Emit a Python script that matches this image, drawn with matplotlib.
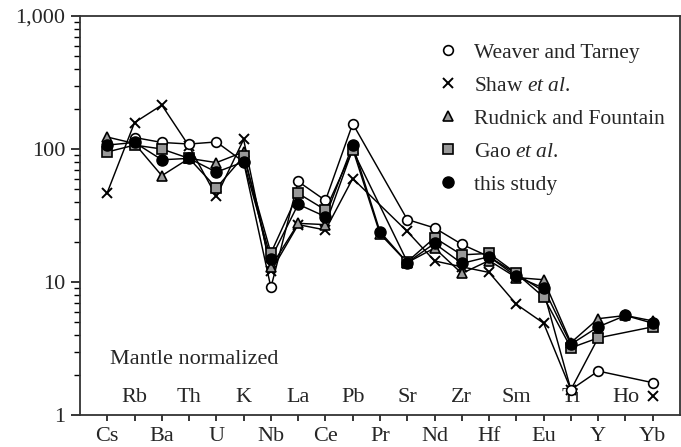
#Imports
import numpy as np
import matplotlib
matplotlib.use('Agg')
import matplotlib.pyplot as plt
from matplotlib.ticker import FuncFormatter, LogLocator, NullFormatter
from matplotlib.lines import Line2D

#Data (primitive mantle normalized), nan = not shown
nan = np.nan
Elements = ['Cs', 'Rb', 'Ba', 'Th', 'U', 'K', 'Nb', 'La', 'Ce', 'Pb', 'Pr',
            'Sr', 'Nd', 'Zr', 'Hf', 'Sm', 'Eu', 'Ti', 'Y', 'Ho', 'Yb']
Weaver = [nan, 122, 112, 109, 113, 80, 9.1, 57, 41, 155, nan,
          29.5, 25.5, 19.2, 15.5, 11.5, 8.5, 1.55, 2.14, nan, 1.75]
Shaw = [47, 158, 214, 105, 44, 118, 12, 27, 24.6, 60, nan,
        24, 14.4, 13, 11.8, 6.8, 4.9, 1.55, 3.8, nan, 1.4]
Rudnick = [123, 110, 63, 85, 79, 95, 13, 27.6, 27, 100, 23,
           14, 18, 11.6, 14.5, 10.8, 10.4, 3.5, 5.3, 5.6, 5.1]
Gao = [95, 107, 100, 85, 51, 88, 16.5, 46.4, 34.8, 98, nan,
       14.2, 21.5, 16, 16.4, 11.6, 7.7, 3.2, 3.8, nan, 4.6]
This_Study = [107, 112, 83, 85, 67, 80, 15, 38.4, 31, 107, 23.9,
              14, 19.5, 13.8, 15.5, 11, 9, 3.4, 4.6, 5.6, 4.9]
Labels = ['Weaver and Tarney', r'Shaw $\mathit{et\ al.}$', 'Rudnick and Fountain',
          r'Gao $\mathit{et\ al.}$', 'this study']
#Shaw Yb is drawn without a connecting line
Shaw_Loose = ['Yb']

plt.rcParams['font.family'] = 'Liberation Serif'
plt.rcParams['mathtext.fontset'] = 'custom'
plt.rcParams['mathtext.rm'] = 'Liberation Serif'
plt.rcParams['mathtext.it'] = 'Liberation Serif:italic'
Text_Col = '#262626'
Gray = '#999999'
Fs = 16

Styles = [dict(marker='o', mfc='white', mec='black', ms=7, mew=1.2),
          dict(marker='x', mfc='none', mec='black', ms=6.5, mew=1.4),
          dict(marker='^', mfc=Gray, mec='black', ms=7.5, mew=1.2),
          dict(marker='s', mfc=Gray, mec='black', ms=7.5, mew=1.2),
          dict(marker='o', mfc='black', mec='black', ms=8, mew=1.0)]
#marker drawing order (Weaver circles sit above Shaw crosses)
Marker_Z = [4, 3, 5, 6, 7]

fig = plt.figure(figsize=(6.81, 4.47), dpi=100)
ax = fig.add_axes([80/681, 32/447, 600/681, 399/447])

X = np.arange(len(Elements))
All_Series = [Weaver, Shaw, Rudnick, Gao, This_Study]
for k, Series in enumerate(All_Series):
    Y_Vals = np.array(Series, dtype=float)
    Keep = ~np.isnan(Y_Vals)
    Line_Keep = Keep.copy()
    if Series is Shaw:
        for e in Shaw_Loose:
            Line_Keep[Elements.index(e)] = False
    ax.plot(X[Line_Keep], Y_Vals[Line_Keep], color='black', lw=1.05, zorder=2)
    ax.plot(X[Keep], Y_Vals[Keep], ls='none', zorder=Marker_Z[k], **Styles[k])

ax.set_yscale('log')
ax.set_xlim(-1, 21)
ax.set_ylim(1, 1000)

#y axis
ax.yaxis.set_major_locator(LogLocator(base=10, numticks=10))
ax.yaxis.set_minor_locator(LogLocator(base=10, subs=np.arange(2, 10), numticks=10))
ax.yaxis.set_minor_formatter(NullFormatter())
ax.yaxis.set_major_formatter(FuncFormatter(lambda v, p: f'{int(round(v)):,}'))
ax.tick_params(axis='y', which='major', direction='out', length=6.5, width=1.1,
               labelsize=Fs, labelcolor=Text_Col, pad=4)
ax.tick_params(axis='y', which='minor', direction='out', length=4.5, width=1.0)

#x axis: even elements below, odd elements inside
ax.set_xticks(X)
ax.set_xticklabels([e if i % 2 == 0 else '' for i, e in enumerate(Elements)])
ax.tick_params(axis='x', direction='out', length=4.5, width=1.1,
               labelsize=Fs, labelcolor=Text_Col, pad=4)
for i, e in enumerate(Elements):
    if i % 2 == 1:
        ax.text(i, 0.045, e, transform=ax.get_xaxis_transform(), ha='center',
                va='center', fontsize=Fs, color=Text_Col)

ax.text(0.1, 0.14, 'Mantle normalized', transform=ax.get_xaxis_transform(),
        ha='left', va='center', fontsize=Fs, color=Text_Col)

for s in ax.spines.values():
    s.set_linewidth(1.3)
    s.set_color('#333333')

#Legend (markers only)
Handles = [Line2D([], [], ls='none', **st) for st in Styles]
ax.legend(Handles, Labels, loc='upper left', bbox_to_anchor=(426/681, 1 - 32/447),
          bbox_transform=fig.transFigure, frameon=False, fontsize=15.5,
          handlelength=1.0, handletextpad=0.75, labelspacing=0.6, borderpad=0,
          labelcolor=Text_Col)

fig.savefig('out.png', dpi=100)
